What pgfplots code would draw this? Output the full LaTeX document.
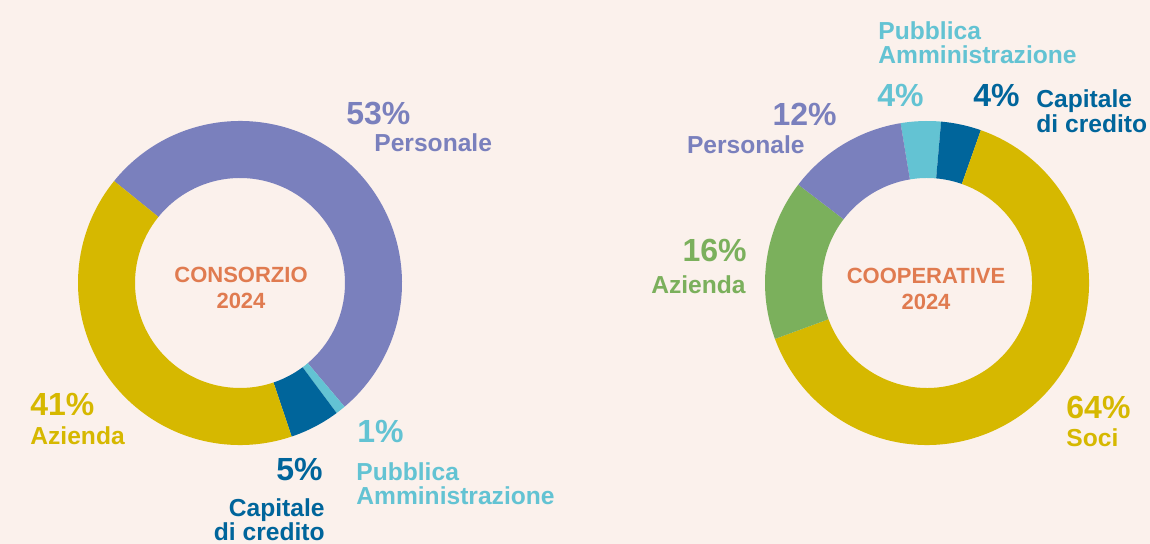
\documentclass[border=0pt]{standalone}
\usepackage{pgfplots}
\usepackage{pgfplotstable}
\usepackage{fontspec}
\pgfplotsset{compat=1.18}
\setmainfont{Liberation Sans}

\definecolor{bg}{HTML}{FBF1EC}
\definecolor{cPers}{HTML}{7A80BD}
\definecolor{cAz}{HTML}{D6B800}
\definecolor{cCap}{HTML}{00659B}
\definecolor{cPA}{HTML}{63C3D3}
\definecolor{cGreen}{HTML}{7BB05C}
\definecolor{cTitle}{HTML}{E07B50}

\tikzset{
  pct/.style={inner sep=0pt, font=\fontsize{16}{16}\selectfont\bfseries},
  lab/.style={inner sep=0pt, font=\fontsize{12.3}{12}\selectfont\bfseries},
  ttl/.style={inner sep=0pt, text=cTitle, anchor=base, font=\fontsize{11}{13}\selectfont\bfseries},
}

% shares in percent, clockwise from the start angle
\pgfplotstableread{
pct col
53 cPers
1 cPA
5 cCap
41 cAz
}\consorzio
\pgfplotstableread{
pct col
4 cPA
4 cCap
64 cAz
16 cGreen
12 cPers
}\cooperative

% 1 axis unit = 0.5pt; outer radius 162, inner 105 (axis units)
\newcommand\donut[4]{%
  \pgfplotstablegetrowsof{#1}%
  \pgfmathtruncatemacro\nrows{\pgfplotsretval-1}%
  \pgfmathsetmacro\angA{#4}%
  \pgfplotsforeachungrouped \i in {0,...,\nrows}{%
    \pgfplotstablegetelem{\i}{pct}\of{#1}\let\pct\pgfplotsretval
    \pgfplotstablegetelem{\i}{col}\of{#1}\let\col\pgfplotsretval
    \pgfmathsetmacro\angB{\angA-3.6*\pct}%
    \pgfmathsetmacro\xo{#2+162*cos(\angA)}%
    \pgfmathsetmacro\yo{#3+162*sin(\angA)}%
    \pgfmathsetmacro\xi{#2+105*cos(\angB)}%
    \pgfmathsetmacro\yi{#3+105*sin(\angB)}%
    \edef\temp{\noexpand\fill[\col] (axis cs:\xo,\yo)
      arc[start angle=\angA, end angle=\angB, radius=81pt]
      -- (axis cs:\xi,\yi)
      arc[start angle=\angB, end angle=\angA, radius=52.5pt] -- cycle;}%
    \temp
    \global\let\angA\angB
  }%
}

\begin{document}
\begin{tikzpicture}
\fill[bg] (0,0) rectangle (575pt,272pt);
\useasboundingbox (0,0) rectangle (575pt,272pt);
\begin{axis}[
  at={(0,0)}, anchor=south west,
  scale only axis, width=575pt, height=272pt,
  xmin=0, xmax=1150, ymin=0, ymax=544,
  hide axis, clip=false,
]
\donut{\consorzio}{240}{261}{141}
\donut{\cooperative}{927}{261}{99.4}

% CONSORZIO labels
\node[ttl] at (axis cs:241,261) {CONSORZIO};
\node[ttl] at (axis cs:241,235) {2024};
\node[pct, anchor=base west, text=cPers] at (axis cs:346,419) {53\%};
\node[lab, anchor=base west, text=cPers] at (axis cs:374,392) {Personale};
\node[pct, anchor=base west, text=cAz] at (axis cs:30,128) {41\%};
\node[lab, anchor=base west, text=cAz] at (axis cs:30,99) {Azienda};
\node[pct, anchor=base west, text=cPA] at (axis cs:357,101) {1\%};
\node[lab, anchor=base west, text=cPA] at (axis cs:356,63) {Pubblica};
\node[lab, anchor=base west, text=cPA] at (axis cs:356,39) {Amministrazione};
\node[pct, anchor=base east, text=cCap] at (axis cs:323,63) {5\%};
\node[lab, anchor=base east, text=cCap] at (axis cs:325,27) {Capitale};
\node[lab, anchor=base east, text=cCap] at (axis cs:325,3) {di credito};

% COOPERATIVE labels
\node[ttl] at (axis cs:926,260) {COOPERATIVE};
\node[ttl] at (axis cs:926,234) {2024};
\node[lab, anchor=base west, text=cPA] at (axis cs:878,504) {Pubblica};
\node[lab, anchor=base west, text=cPA] at (axis cs:878,480) {Amministrazione};
\node[pct, anchor=base west, text=cPA] at (axis cs:877,437) {4\%};
\node[pct, anchor=base west, text=cCap] at (axis cs:973,437) {4\%};
\node[lab, anchor=base west, text=cCap] at (axis cs:1036,436) {Capitale};
\node[lab, anchor=base west, text=cCap] at (axis cs:1036,411) {di credito};
\node[pct, anchor=base east, text=cPers] at (axis cs:837,418) {12\%};
\node[lab, anchor=base east, text=cPers] at (axis cs:805,390) {Personale};
\node[pct, anchor=base east, text=cGreen] at (axis cs:747,282) {16\%};
\node[lab, anchor=base east, text=cGreen] at (axis cs:746,250) {Azienda};
\node[pct, anchor=base west, text=cAz] at (axis cs:1066,125) {64\%};
\node[lab, anchor=base west, text=cAz] at (axis cs:1066,97) {Soci};
\end{axis}
\end{tikzpicture}
\end{document}
